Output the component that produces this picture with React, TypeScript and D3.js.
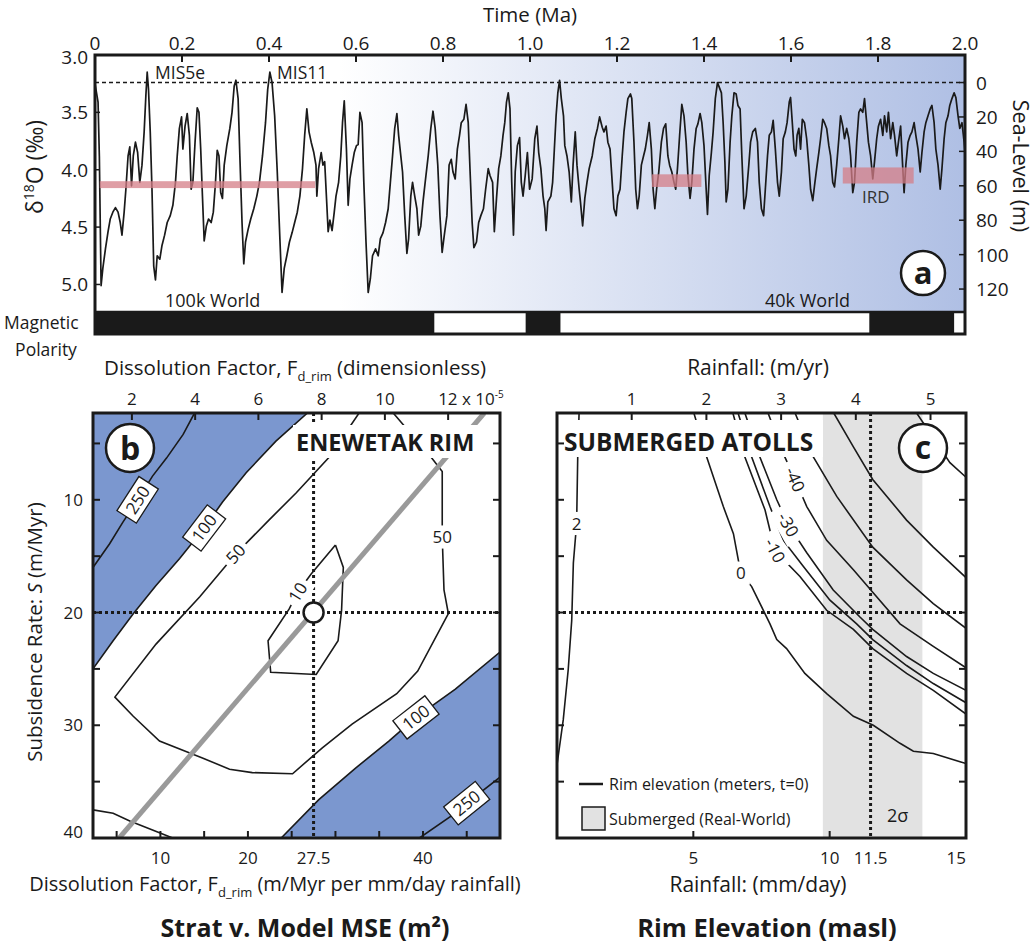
import React from "react";
import * as d3 from "d3";

// ---- panel a: benthic d18O stack [Ma, permil] ----
const lr04 = [
  [0.000,3.25],[0.007,3.41],[0.010,3.88],[0.014,5.01],[0.018,4.86],[0.024,4.69],[0.030,4.54],[0.035,4.43],[0.041,4.37],[0.047,4.33],
  [0.053,4.37],[0.058,4.46],[0.062,4.57],[0.067,4.37],[0.071,4.17],[0.076,3.88],[0.080,3.80],[0.084,4.14],[0.088,3.88],[0.093,3.76],
  [0.098,3.85],[0.103,4.11],[0.108,3.96],[0.113,3.67],[0.117,3.35],[0.120,3.15],[0.123,3.30],[0.127,3.67],[0.131,4.17],[0.135,4.84],
  [0.139,4.96],[0.143,4.75],[0.149,4.78],[0.154,4.66],[0.160,4.57],[0.166,4.46],[0.173,4.40],[0.179,4.31],[0.185,4.11],[0.189,3.88],
  [0.194,3.64],[0.199,3.54],[0.202,3.82],[0.207,3.62],[0.212,3.51],[0.217,3.70],[0.221,4.17],[0.225,4.11],[0.230,3.76],[0.235,3.46],
  [0.239,3.50],[0.243,3.82],[0.247,4.23],[0.251,4.62],[0.256,4.49],[0.261,4.43],[0.267,4.46],[0.272,4.37],[0.277,4.11],[0.281,3.83],
  [0.285,3.88],[0.289,4.20],[0.293,4.25],[0.297,3.96],[0.303,3.79],[0.310,3.64],[0.315,3.50],[0.320,3.27],[0.324,3.22],[0.329,3.38],
  [0.333,3.88],[0.338,4.46],[0.342,4.82],[0.346,4.63],[0.352,4.52],[0.358,4.43],[0.365,4.34],[0.372,4.23],[0.378,4.11],[0.385,3.88],
  [0.392,3.59],[0.397,3.30],[0.402,3.15],[0.407,3.24],[0.413,3.53],[0.419,4.02],[0.425,4.60],[0.430,5.07],[0.435,4.86],[0.441,4.75],
  [0.447,4.63],[0.453,4.55],[0.459,4.46],[0.465,4.37],[0.471,4.23],[0.477,3.99],[0.482,3.70],[0.487,3.47],[0.492,3.67],[0.497,3.76],
  [0.503,3.85],[0.508,3.96],[0.510,4.23],[0.514,3.99],[0.520,3.85],[0.524,3.96],[0.528,3.93],[0.533,4.31],[0.536,4.54],[0.540,4.44],
  [0.545,4.53],[0.550,4.37],[0.554,4.23],[0.560,4.11],[0.565,3.88],[0.569,3.59],[0.573,3.40],[0.578,3.82],[0.582,4.31],[0.586,4.08],
  [0.591,3.96],[0.596,3.85],[0.601,3.79],[0.605,3.78],[0.609,3.50],[0.614,3.59],[0.618,4.11],[0.623,4.63],[0.628,5.07],[0.633,4.95],
  [0.638,4.75],[0.645,4.69],[0.651,4.75],[0.656,4.60],[0.662,4.55],[0.668,4.46],[0.674,4.34],[0.679,4.11],[0.684,3.88],[0.689,3.64],
  [0.694,3.51],[0.698,3.70],[0.703,3.88],[0.707,4.02],[0.712,4.40],[0.717,4.73],[0.721,4.60],[0.726,4.23],[0.730,4.11],[0.735,4.23],
  [0.740,4.34],[0.744,4.57],[0.749,4.49],[0.754,4.28],[0.759,4.11],[0.766,3.88],[0.772,3.64],[0.777,3.49],[0.782,3.64],[0.788,3.96],
  [0.793,4.40],[0.798,4.72],[0.803,4.57],[0.809,4.40],[0.814,3.96],[0.819,3.91],[0.823,4.02],[0.828,4.08],[0.833,3.82],[0.838,3.70],
  [0.842,3.59],[0.848,3.56],[0.853,3.43],[0.858,3.59],[0.862,3.99],[0.867,4.46],[0.871,4.68],[0.877,4.63],[0.882,4.46],[0.887,4.40],
  [0.893,4.34],[0.898,4.17],[0.904,3.99],[0.908,4.05],[0.914,4.11],[0.918,4.54],[0.923,4.25],[0.928,3.99],[0.933,3.88],[0.938,3.70],
  [0.942,3.59],[0.946,3.41],[0.950,3.33],[0.954,3.47],[0.958,4.11],[0.962,4.57],[0.966,4.02],[0.971,3.79],[0.976,3.72],[0.980,4.11],
  [0.984,4.23],[0.989,4.05],[0.994,3.85],[0.999,4.17],[1.005,4.08],[1.011,3.73],[1.016,3.62],[1.020,3.85],[1.025,3.99],[1.030,4.23],
  [1.034,4.34],[1.037,4.53],[1.041,4.28],[1.048,4.23],[1.052,4.11],[1.056,3.82],[1.060,3.53],[1.064,3.33],[1.068,3.22],[1.072,3.38],
  [1.077,3.53],[1.080,3.79],[1.085,3.88],[1.090,4.02],[1.095,4.28],[1.099,3.96],[1.104,3.67],[1.108,3.96],[1.113,4.17],[1.116,4.28],
  [1.121,4.49],[1.126,4.25],[1.131,4.11],[1.136,3.99],[1.143,3.88],[1.149,3.73],[1.155,3.64],[1.160,3.54],[1.166,3.63],[1.170,3.67],
  [1.175,3.62],[1.179,3.76],[1.184,3.82],[1.189,4.11],[1.193,4.34],[1.198,4.40],[1.202,4.23],[1.207,4.17],[1.212,3.88],[1.216,3.67],
  [1.221,3.50],[1.225,3.38],[1.231,3.34],[1.234,3.38],[1.239,3.76],[1.243,4.17],[1.247,4.34],[1.251,4.23],[1.256,3.96],[1.261,3.88],
  [1.265,3.82],[1.270,3.70],[1.274,3.59],[1.279,3.82],[1.283,4.17],[1.287,4.34],[1.291,4.17],[1.296,4.02],[1.302,3.76],[1.307,3.64],
  [1.312,3.60],[1.317,3.88],[1.321,3.96],[1.326,4.02],[1.331,4.11],[1.335,4.17],[1.339,3.99],[1.344,3.70],[1.349,3.43],[1.354,3.53],
  [1.359,3.76],[1.363,4.05],[1.368,4.25],[1.372,4.11],[1.377,3.82],[1.382,3.64],[1.386,3.60],[1.391,3.51],[1.395,3.59],[1.400,3.79],
  [1.405,4.17],[1.408,4.39],[1.412,4.05],[1.417,3.85],[1.421,3.67],[1.426,3.38],[1.431,3.24],[1.435,3.28],[1.440,3.33],[1.444,3.59],
  [1.448,3.93],[1.451,4.28],[1.455,4.17],[1.460,3.76],[1.464,3.53],[1.469,3.33],[1.474,3.34],[1.478,3.44],[1.483,3.47],[1.487,3.88],
  [1.492,4.34],[1.497,4.23],[1.503,3.96],[1.507,3.76],[1.512,3.67],[1.518,3.64],[1.523,3.76],[1.527,4.11],[1.532,4.34],[1.537,4.40],
  [1.541,4.17],[1.546,3.88],[1.550,3.70],[1.555,3.67],[1.559,3.57],[1.564,3.82],[1.569,4.11],[1.573,4.23],[1.578,4.02],[1.582,3.73],
  [1.587,3.67],[1.591,3.59],[1.596,3.41],[1.599,3.37],[1.603,3.59],[1.607,3.82],[1.611,3.88],[1.614,3.70],[1.618,3.64],[1.622,3.82],
  [1.626,3.56],[1.631,3.59],[1.636,3.73],[1.641,3.96],[1.645,4.17],[1.650,4.27],[1.654,4.14],[1.659,3.99],[1.664,3.85],[1.668,3.73],
  [1.673,3.56],[1.677,3.59],[1.682,3.64],[1.687,3.79],[1.691,3.88],[1.696,4.11],[1.700,4.15],[1.705,3.96],[1.710,3.73],[1.714,3.53],
  [1.719,3.62],[1.723,3.73],[1.728,3.64],[1.733,3.73],[1.737,3.88],[1.742,4.20],[1.746,4.11],[1.751,3.76],[1.756,3.50],[1.760,3.47],
  [1.765,3.50],[1.769,3.38],[1.774,3.59],[1.778,3.76],[1.783,3.88],[1.788,4.08],[1.792,3.93],[1.797,3.73],[1.801,3.62],[1.806,3.56],
  [1.811,3.70],[1.815,3.53],[1.820,3.67],[1.824,3.50],[1.829,3.73],[1.834,3.59],[1.838,3.70],[1.843,3.88],[1.847,3.76],[1.852,3.62],
  [1.857,3.99],[1.860,4.20],[1.864,3.96],[1.869,3.76],[1.874,3.70],[1.878,3.67],[1.883,3.59],[1.887,3.70],[1.892,3.82],[1.897,4.02],
  [1.901,3.85],[1.906,3.67],[1.910,3.59],[1.915,3.53],[1.920,3.47],[1.924,3.44],[1.929,3.59],[1.933,3.82],[1.938,3.96],[1.943,4.17],
  [1.947,3.99],[1.952,3.73],[1.956,3.59],[1.961,3.53],[1.965,3.44],[1.970,3.38],[1.975,3.33],[1.979,3.37],[1.984,3.53],[1.988,3.64],
  [1.993,3.59],[1.998,3.76],[2.000,3.85],
];
const timeTicks = [0, 0.2, 0.4, 0.6, 0.8, 1.0, 1.2, 1.4, 1.6, 1.8, 2.0];
const d18OTicks = [3.0, 3.5, 4.0, 4.5, 5.0];
const seaLevelTicks = [0, 20, 40, 60, 80, 100, 120];
const seaLevelAnchors = [3.24, 5.04]; // d18O at 0 m and 120 m
// normal-polarity intervals (Ma)
const polarityNormal = [[0, 0.78], [0.99, 1.07], [1.78, 1.975]];
// IRD bars: [t0, t1, d18O top, d18O bottom]
const irdBars = [[0.011, 0.506, 4.10, 4.16], [1.28, 1.394, 4.04, 4.15], [1.719, 1.882, 3.98, 4.12]];

// ---- panel b: MSE contours, [F (m/Myr per mm/day), S (m/Myr)] ----
const c250Upper = [[13.9,2.3],[12.6,4.2],[10.7,6.3],[9.1,7.9],[7.4,10.0],[5.7,12.0],[4.2,13.9],[2.3,16.0]];
const c100Upper = [[26.8,2.3],[23.2,4.8],[19.8,7.6],[17.1,10.2],[15.0,12.5],[12.2,15.2],[9.5,17.6],[6.9,20.1],[4.6,22.5],[2.3,25.0]];
const c50 = [[32.7,2.3],[29.3,6.2],[25.5,9.4],[22.4,11.8],[18.6,14.8],[14.5,18.6],[9.5,22.8],[4.8,27.5],[6.9,29.2],[9.9,31.4],
  [14.8,32.9],[17.9,33.9],[20.5,34.2],[25.1,34.3],[28.5,32.0],[31.9,29.9],[37.0,27.2],[39.4,25.2],[42.9,20.1],[42.4,18.0],
  [42.2,13.3],[42.2,7.5],[41.0,6.3],[36.6,2.3]];
const c10 = [[30.0,14.0],[30.9,16.0],[30.7,19.8],[30.3,22.5],[27.8,25.5],[22.6,25.3],[22.3,22.5],[24.7,19.7],[25.7,18.2],[27.2,16.6],[30.0,14.0]];
const cLowerLeft = [[2.3,37.5],[4.6,37.8],[6.5,38.5],[9.1,39.3],[11.4,40.0]];
const c100Lower = [[23.8,40.0],[28.1,36.6],[32.3,33.8],[36.1,31.4],[39.2,29.3],[43.7,26.8],[48.8,23.5]];
const c250Lower = [[39.6,40.0],[43.7,37.8],[45.0,36.9],[48.8,34.6]];
const bestFitLine = [[5.3,40.0],[47.0,2.3]];
const bestF = 27.5;
const bestS = 20;
const fdimTicks = [2, 4, 6, 8, 10, 12];
const fTickMarks = [5, 10, 15, 20, 25, 30, 35, 40, 45];
const fTickLabels = [10, 20, 27.5, 40];
const sTickMarks = [5, 10, 15, 20, 25, 30, 35];
const sTickLabels = [10, 20, 30, 40];
// labels: [contour, point index, text, boxed, along-line]
const bLabels = [
  [c250Upper, 4, "250", true, true],
  [c100Upper, 4, "100", true, true],
  [c50, 4, "50", false, true],
  [c50, 20, "50", false, false],
  [c10, 8, "10", false, true],
  [c100Lower, 4, "100", true, true],
  [c250Lower, 2, "250", true, true],
];

// ---- panel c: rim elevation contours, [rainfall (mm/day), S (m/Myr)] ----
const e2 = [[0.81,2.3],[0.76,6.2],[0.72,12.1],[0.60,15.6],[0.54,20.7],[0.41,25.1],[0.23,29.5],[0.0,33.5]];
const e0 = [[5.02,2.3],[5.49,6.2],[6.10,10.6],[6.47,13.0],[6.74,16.5],[7.14,17.7],[7.81,21.0],[8.06,22.4],[8.42,23.2],
  [9.09,25.4],[9.89,27.2],[10.87,29.2],[11.60,30.0],[12.58,31.6],[13.07,32.3],[13.80,32.5],[15.0,33.4]];
const eM10 = [[6.45,2.3],[6.89,6.2],[7.63,10.9],[7.99,14.5],[8.91,16.8],[9.89,19.8],[10.87,21.5],[11.58,23.2],[12.82,25.4],[13.8,26.9],[15.0,29.0]];
const eM20 = [[6.64,2.3],[7.14,6.2],[7.81,10.6],[8.30,13.6],[9.03,15.9],[10.01,18.9],[10.99,21.0],[11.58,22.4],[12.82,24.7],[13.8,26.3],[15.0,28.0]];
const eM30 = [[6.89,2.3],[7.44,6.2],[8.06,10.0],[8.48,12.2],[9.16,14.7],[10.13,18.0],[11.11,20.4],[11.58,21.5],[12.82,23.9],[13.8,25.4],[15.0,26.9]];
const eM40 = [[7.74,2.3],[8.30,5.9],[8.73,8.2],[9.16,10.6],[9.89,13.6],[10.87,16.2],[11.58,18.2],[12.58,21.0],[13.8,23.0],[15.0,24.9]];
const eM50 = [[8.73,2.3],[9.40,6.2],[10.26,9.7],[11.58,14.2],[12.82,17.1],[13.8,19.2],[15.0,21.4]];
const eM60 = [[10.15,2.3],[10.87,5.3],[11.58,8.2],[12.82,11.8],[13.8,14.2],[15.0,16.9]];
const eM70 = [[13.19,2.3],[14.41,6.7],[15.0,8.0]];
const submergedBand = [9.75, 13.4];
const bestRain = 11.5;
const mmTickMarks = [5, 10];
const mmTickLabels = [5, 10, 11.5, 15];
const myrTicks = [1, 2, 3, 4, 5];
const cLabels = [
  [e2, 2, "2", false, false],
  [e0, 4, "0", false, false],
  [eM10, 3, "-10", false, true],
  [eM30, 3, "-30", false, true],
  [eM40, 2, "-40", false, true],
];

const FONT = "'Open Sans', 'DejaVu Sans', sans-serif";
const INK = "#1a1a1a";

function ContourLabel({ pts, idx, text, boxed, along, xs, ys, size }) {
  const p = pts[idx];
  const cx = xs(p[0]);
  const cy = ys(p[1]);
  let ang = 0;
  if (along) {
    const a = pts[Math.max(0, idx - 1)];
    const b = pts[Math.min(pts.length - 1, idx + 1)];
    ang = (Math.atan2(ys(b[1]) - ys(a[1]), xs(b[0]) - xs(a[0])) * 180) / Math.PI;
    if (ang > 90) ang -= 180;
    if (ang < -90) ang += 180;
  }
  const w = text.length * size * 0.6 + (boxed ? 10 : 8);
  return (
    <g transform={`translate(${cx},${cy}) rotate(${ang})`}>
      <rect x={-w / 2} y={-size * 0.68} width={w} height={size * 1.36} fill="#fff"
        stroke={boxed ? INK : "none"} strokeWidth={1.3} />
      <text textAnchor="middle" y={size * 0.36} fontSize={size} fill={INK}>{text}</text>
    </g>
  );
}

function PanelA() {
  const L = 95, R = 965, T = 55, B = 312, PB = 334;
  const x = d3.scaleLinear().domain([0, 2]).range([L, R]);
  const y = d3.scaleLinear().domain([3.0, 5.24]).range([T, B]);
  const ySL = d3.scaleLinear().domain([0, 120]).range([y(seaLevelAnchors[0]), y(seaLevelAnchors[1])]);
  const line = d3.line().x((d) => x(d[0])).y((d) => y(d[1]));
  return (
    <g>
      <defs>
        <linearGradient id="gradA" x1="0" x2="1" y1="0" y2="0">
          <stop offset="0" stopColor="#ffffff" />
          <stop offset="0.28" stopColor="#ffffff" />
          <stop offset="1" stopColor="#afbfe4" />
        </linearGradient>
        <clipPath id="clipA"><rect x={L} y={T} width={R - L} height={B - T} /></clipPath>
      </defs>
      <rect x={L} y={T} width={R - L} height={B - T} fill="url(#gradA)" />
      <line x1={L} x2={R} y1={ySL(0)} y2={ySL(0)} stroke={INK} strokeWidth={1.4} strokeDasharray="4,3" />
      <path d={line(lr04)} fill="none" stroke={INK} strokeWidth={1.7} strokeLinejoin="round" clipPath="url(#clipA)" />
      {irdBars.map((b, i) => (
        <rect key={i} x={x(b[0])} width={x(b[1]) - x(b[0])} y={y(b[2])} height={y(b[3]) - y(b[2])}
          fill="#d47d87" opacity={0.75} />
      ))}
      {/* polarity */}
      <rect x={L} y={B} width={R - L} height={PB - B} fill="#fff" />
      {polarityNormal.map((p, i) => (
        <rect key={i} x={x(p[0])} width={x(p[1]) - x(p[0])} y={B} height={PB - B} fill={INK} />
      ))}
      <rect x={L} y={T} width={R - L} height={PB - T} fill="none" stroke={INK} strokeWidth={3} />
      <line x1={L} x2={R} y1={B} y2={B} stroke={INK} strokeWidth={2.5} />
      {/* top axis */}
      {timeTicks.map((t) => (
        <g key={t}>
          <line x1={x(t)} x2={x(t)} y1={T} y2={T + 7} stroke={INK} strokeWidth={2} />
          <text x={x(t)} y={50} textAnchor="middle" fontSize={19} fill={INK}>{t === 0 ? "0" : t.toFixed(1)}</text>
        </g>
      ))}
      <text x={530} y={22} textAnchor="middle" fontSize={20.5} fill={INK}>Time (Ma)</text>
      {d18OTicks.map((v, i) => (
        <g key={v}>
          <line x1={L} x2={L + 5} y1={y(v)} y2={y(v)} stroke={INK} strokeWidth={1.5} />
          <text x={88} y={y(v) + 7 + (i === 0 ? 2 : 0)} textAnchor="end" fontSize={19} fill={INK}>{v.toFixed(1)}</text>
        </g>
      ))}
      <text transform={`translate(43,${167}) rotate(-90)`} textAnchor="middle" fontSize={23} fill={INK}>
        δ<tspan fontSize={14} dy={-9}>18</tspan><tspan dy={9}>O (‰)</tspan>
      </text>
      {seaLevelTicks.map((v) => (
        <g key={v}>
          <line x1={R - 6} x2={R} y1={ySL(v)} y2={ySL(v)} stroke={INK} strokeWidth={1.5} />
          <text x={976} y={ySL(v) + 7} fontSize={19} fill={INK}>{v}</text>
        </g>
      ))}
      <text transform={`translate(1013,${166}) rotate(90)`} textAnchor="middle" fontSize={21.5} fill={INK}>Sea-Level (m)</text>
      <text x={155} y={79} fontSize={17.5} fill={INK}>MIS5e</text>
      <text x={277} y={79} fontSize={17.5} fill={INK}>MIS11</text>
      <text x={165} y={307} fontSize={18} fill={INK}>100k World</text>
      <text x={765} y={307} fontSize={18} fill={INK}>40k World</text>
      <text x={862} y={203} fontSize={17} fill="#333">IRD</text>
      <circle cx={923} cy={273} r={22} fill="#fff" stroke={INK} strokeWidth={2.5} />
      <text x={923} y={284} textAnchor="middle" fontSize={31} fontWeight="bold" fill={INK}>a</text>
      <text x={4} y={329} fontSize={17.5} fill={INK}>Magnetic</text>
      <text x={46} y={356} textAnchor="middle" fontSize={17.5} fill={INK}>Polarity</text>
    </g>
  );
}

function PanelB() {
  const L = 93, R = 500, T = 413, B = 838;
  const x = d3.scaleLinear().domain([2.3, 48.8]).range([L, R]);
  const y = d3.scaleLinear().domain([2.3, 40]).range([T, B]);
  const xTop = d3.scaleLinear().domain([0.77, 13.64]).range([L, R]);
  const line = d3.line().x((d) => x(d[0])).y((d) => y(d[1]));
  const upperBlue = [[2.3, 2.3], ...c100Upper];
  const lowerBlue = [...c100Lower, [48.8, 40]];
  return (
    <g>
      <defs><clipPath id="clipB"><rect x={L} y={T} width={R - L} height={B - T} /></clipPath></defs>
      <rect x={L} y={T} width={R - L} height={B - T} fill="#fff" />
      <g clipPath="url(#clipB)">
        <path d={line(upperBlue) + "Z"} fill="#7b97cf" />
        <path d={line(lowerBlue) + "Z"} fill="#7b97cf" />
        {[c250Upper, c100Upper, c50, c10, cLowerLeft, c100Lower, c250Lower].map((c, i) => (
          <path key={i} d={line(c)} fill="none" stroke={INK} strokeWidth={1.6} />
        ))}
        <path d={line(bestFitLine)} stroke="#9a9a9a" strokeWidth={5} fill="none" />
        <line x1={x(bestF)} x2={x(bestF)} y1={T} y2={B} stroke={INK} strokeWidth={3} strokeDasharray="3,3" />
        <line x1={L} x2={R} y1={y(bestS)} y2={y(bestS)} stroke={INK} strokeWidth={3} strokeDasharray="3,3" />
        {bLabels.map((l, i) => (
          <ContourLabel key={i} pts={l[0]} idx={l[1]} text={l[2]} boxed={l[3]} along={l[4]} xs={x} ys={y} size={17} />
        ))}
        <circle cx={x(bestF)} cy={y(bestS)} r={10} fill="#fff" stroke={INK} strokeWidth={2.5} />
        <rect x={293} y={425} width={186} height={33} fill="#fff" />
        <text x={296} y={451} fontSize={23.5} fontWeight="bold" fill={INK}>ENEWETAK RIM</text>
        <circle cx={130} cy={448} r={24} fill="#fff" stroke={INK} strokeWidth={2.5} />
        <text x={130} y={460} textAnchor="middle" fontSize={32} fontWeight="bold" fill={INK}>b</text>
      </g>
      <rect x={L} y={T} width={R - L} height={B - T} fill="none" stroke={INK} strokeWidth={3} />
      {fdimTicks.map((v) => (
        <g key={v}>
          <line x1={xTop(v)} x2={xTop(v)} y1={T} y2={T + 7} stroke={INK} strokeWidth={2} />
          {v === 12 ? (
            <text x={xTop(v) - 10} y={405} fontSize={17} fill={INK}>
              12 x 10<tspan fontSize={10} dy={-7}>-5</tspan>
            </text>
          ) : (
            <text x={xTop(v)} y={405} textAnchor="middle" fontSize={17} fill={INK}>{v}</text>
          )}
        </g>
      ))}
      <text x={295} y={375} textAnchor="middle" fontSize={20.5} fill={INK}>
        Dissolution Factor, F<tspan fontSize={13} dy={6}>d_rim</tspan><tspan dy={-6}> (dimensionless)</tspan>
      </text>
      {fTickMarks.map((v) => (
        <line key={v} x1={x(v)} x2={x(v)} y1={B} y2={B - 7} stroke={INK} strokeWidth={2} />
      ))}
      {fTickLabels.map((v) => (
        <text key={v} x={x(v)} y={864} textAnchor="middle" fontSize={17} fill={INK}>{v}</text>
      ))}
      <text x={275} y={891} textAnchor="middle" fontSize={20} fill={INK}>
        Dissolution Factor, F<tspan fontSize={13} dy={6}>d_rim</tspan><tspan dy={-6}> (m/Myr per mm/day rainfall)</tspan>
      </text>
      <text x={305} y={937} textAnchor="middle" fontSize={25} fontWeight="bold" fill={INK}>Strat v. Model MSE (m²)</text>
      {sTickMarks.map((v) => (
        <g key={v}>
          <line x1={L} x2={L + 7} y1={y(v)} y2={y(v)} stroke={INK} strokeWidth={2} />
          <line x1={R} x2={R - 7} y1={y(v)} y2={y(v)} stroke={INK} strokeWidth={2} />
        </g>
      ))}
      {sTickLabels.map((v) => (
        <text key={v} x={83} y={Math.min(y(v), 832) + 6} textAnchor="end" fontSize={17} fill={INK}>{v}</text>
      ))}
      <text transform={`translate(42,632) rotate(-90)`} textAnchor="middle" fontSize={20.5} fill={INK}>
        Subsidence Rate: <tspan fontStyle="italic">S</tspan> (m/Myr)
      </text>
    </g>
  );
}

function PanelC() {
  const L = 557, R = 966, T = 413, B = 838;
  const x = d3.scaleLinear().domain([0, 15]).range([L, R]);
  const y = d3.scaleLinear().domain([2.3, 40]).range([T, B]);
  const xTop = d3.scaleLinear().domain([0, 15 * 0.365]).range([L, R]);
  const line = d3.line().x((d) => x(d[0])).y((d) => y(d[1]));
  return (
    <g>
      <defs><clipPath id="clipC"><rect x={L} y={T} width={R - L} height={B - T} /></clipPath></defs>
      <rect x={L} y={T} width={R - L} height={B - T} fill="#fff" />
      <g clipPath="url(#clipC)">
        <rect x={x(submergedBand[0])} width={x(submergedBand[1]) - x(submergedBand[0])} y={T} height={B - T} fill="#e2e2e2" />
        {[e2, e0, eM10, eM20, eM30, eM40, eM50, eM60, eM70].map((c, i) => (
          <path key={i} d={line(c)} fill="none" stroke={INK} strokeWidth={1.6} />
        ))}
        <line x1={x(bestRain)} x2={x(bestRain)} y1={T} y2={B} stroke={INK} strokeWidth={3} strokeDasharray="3,3" />
        <line x1={L} x2={R} y1={y(bestS)} y2={y(bestS)} stroke={INK} strokeWidth={3} strokeDasharray="3,3" />
        {cLabels.map((l, i) => (
          <ContourLabel key={i} pts={l[0]} idx={l[1]} text={l[2]} boxed={l[3]} along={l[4]} xs={x} ys={y} size={17} />
        ))}
        <rect x={561} y={420} width={262} height={37} fill="#fff" />
        <text x={564} y={451} fontSize={24.5} fontWeight="bold" fill={INK}>SUBMERGED ATOLLS</text>
        <circle cx={923} cy={448} r={24} fill="#fff" stroke={INK} strokeWidth={2.5} />
        <text x={923} y={459} textAnchor="middle" fontSize={32} fontWeight="bold" fill={INK}>c</text>
        <line x1={579} x2={603} y1={784} y2={784} stroke={INK} strokeWidth={2.5} />
        <text x={609} y={790} fontSize={16} fill={INK}>Rim elevation (meters, t=0)</text>
        <rect x={582} y={807} width={23} height={23} fill="#e2e2e2" stroke={INK} strokeWidth={1.5} />
        <text x={609} y={825} fontSize={16} fill={INK}>Submerged (Real-World)</text>
        <text x={887} y={822} fontSize={18} fill={INK}>2σ</text>
      </g>
      <rect x={L} y={T} width={R - L} height={B - T} fill="none" stroke={INK} strokeWidth={3} />
      {myrTicks.map((v) => (
        <g key={v}>
          <line x1={xTop(v)} x2={xTop(v)} y1={T} y2={T + 7} stroke={INK} strokeWidth={2} />
          <text x={xTop(v)} y={405} textAnchor="middle" fontSize={17} fill={INK}>{v}</text>
        </g>
      ))}
      <text x={758} y={375} textAnchor="middle" fontSize={21} fill={INK}>Rainfall: (m/yr)</text>
      {mmTickMarks.map((v) => (
        <line key={v} x1={x(v)} x2={x(v)} y1={B} y2={B - 7} stroke={INK} strokeWidth={2} />
      ))}
      {mmTickLabels.map((v) => (
        <text key={v} x={x(v)} y={864} textAnchor={v === 15 ? "end" : "middle"} fontSize={17} fill={INK}>{v}</text>
      ))}
      <text x={758} y={892} textAnchor="middle" fontSize={21} fill={INK}>Rainfall: (mm/day)</text>
      <text x={767} y={937} textAnchor="middle" fontSize={25.5} fontWeight="bold" fill={INK}>Rim Elevation (masl)</text>
      {sTickMarks.map((v) => (
        <g key={v}>
          <line x1={L} x2={L + 7} y1={y(v)} y2={y(v)} stroke={INK} strokeWidth={2} />
          <line x1={R} x2={R - 7} y1={y(v)} y2={y(v)} stroke={INK} strokeWidth={2} />
        </g>
      ))}
    </g>
  );
}

export default function App() {
  return (
    <div style={{ position: "absolute", left: 0, top: 0, background: "#fff" }}>
      <svg width={1035} height={945} fontFamily={FONT}>
        <rect width={1035} height={945} fill="#fff" />
        <PanelA />
        <PanelB />
        <PanelC />
      </svg>
    </div>
  );
}
